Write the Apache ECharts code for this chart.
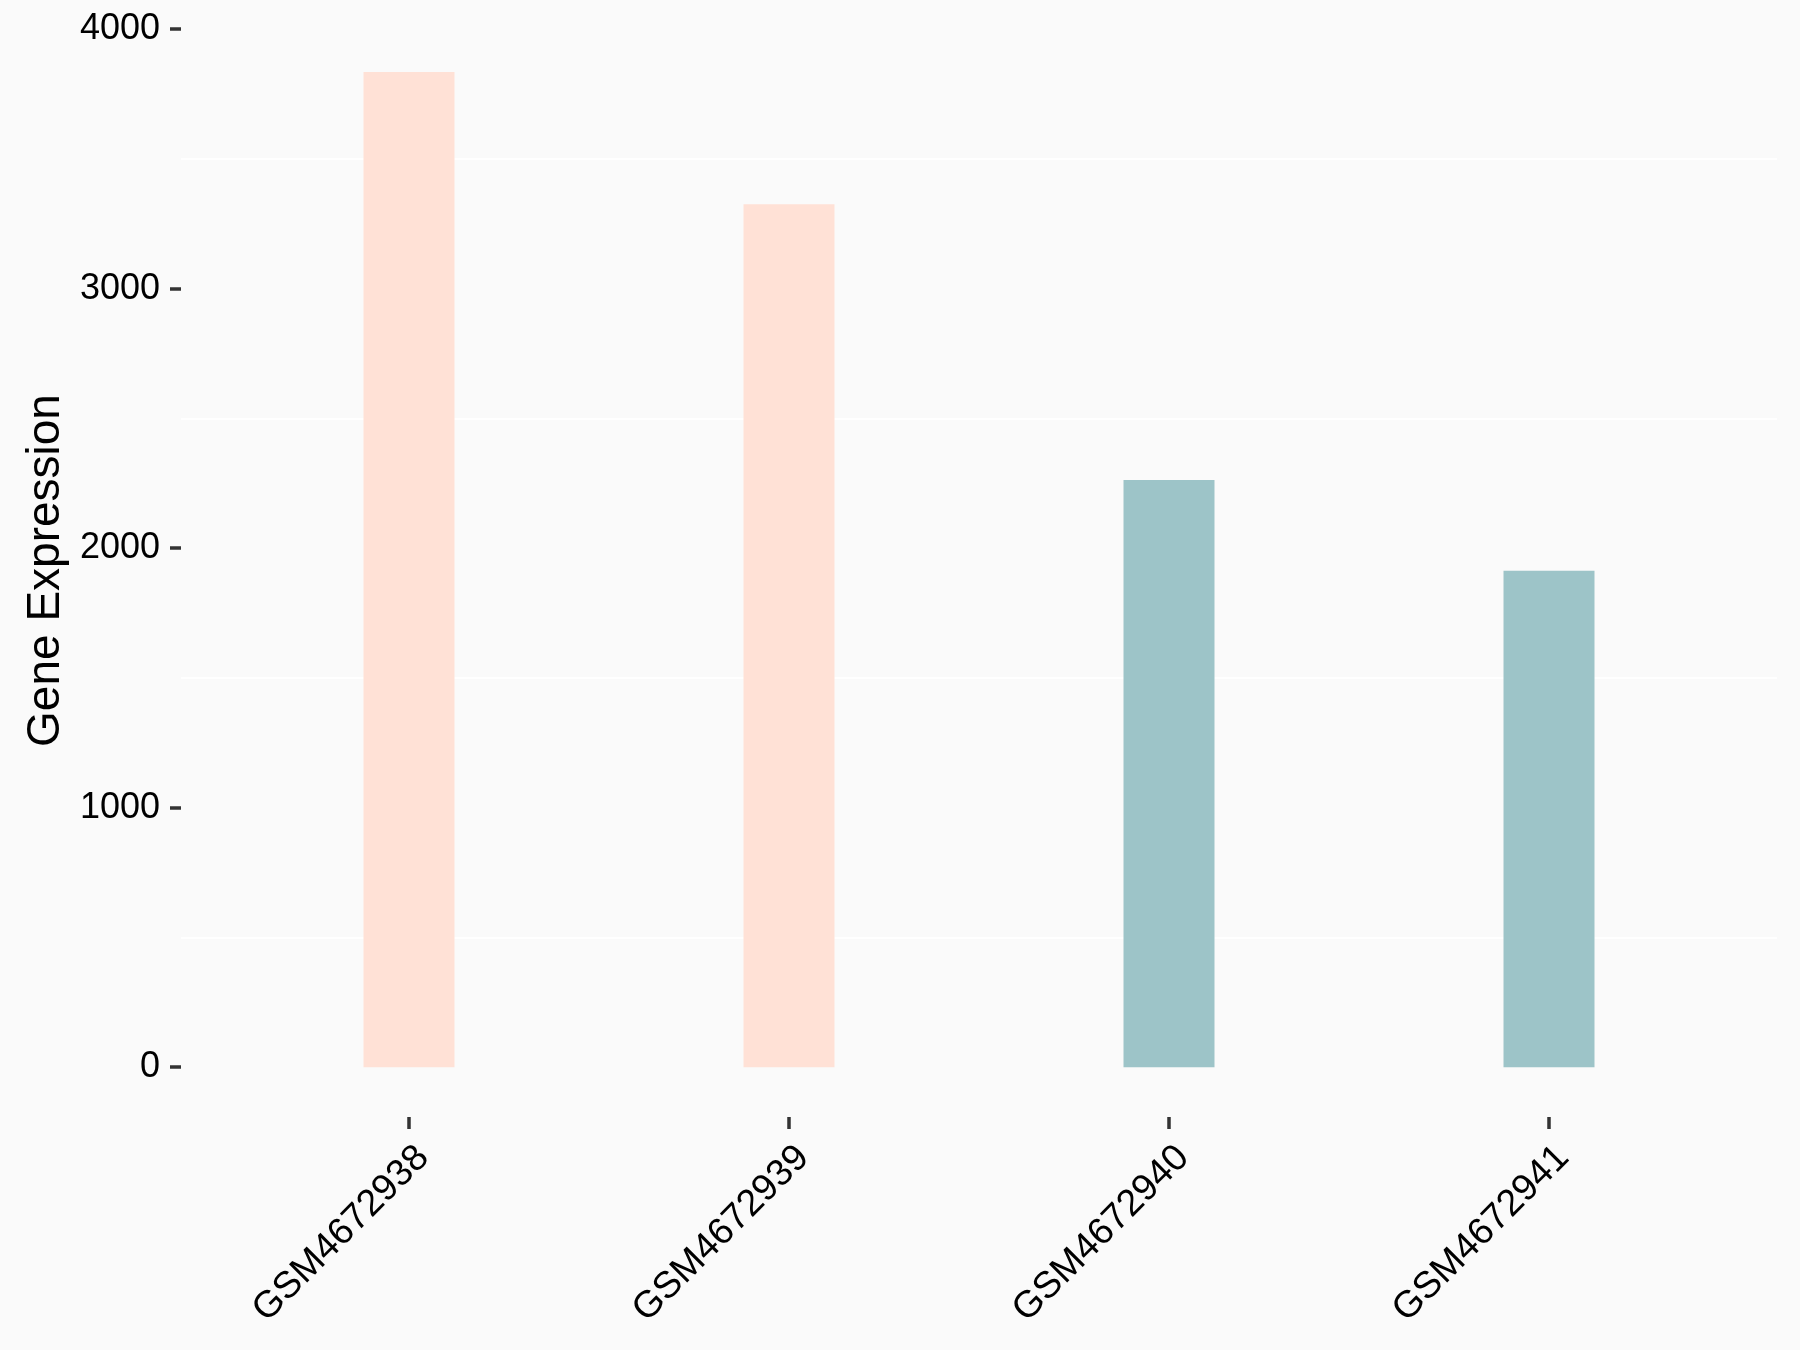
<!DOCTYPE html>
<html>
<head>
<meta charset="utf-8">
<script src="https://cdn.jsdelivr.net/npm/echarts@6/dist/echarts.min.js"></script>
<style>
  html, body { margin: 0; padding: 0; background: #fafafa; }
  #geneChart { width: 1800px; height: 1350px; }
</style>
</head>
<body>
<div id="geneChart"></div>
<script>
// samples and values
var samples = ['GSM4672938', 'GSM4672939', 'GSM4672940', 'GSM4672941']
var expression = [3835, 3325, 2263, 1913]
var groups = ['A', 'A', 'B', 'B']
var yTicks = [0, 1000, 2000, 3000, 4000]
var yGrid = [500, 1500, 2500, 3500]

var groupColors = { A: '#ffe1d6', B: '#9dc4c8' }
var font = 'Liberation Sans, Arial, sans-serif'

// charts instantiate
var chart = echarts.init(document.getElementById('geneChart'))

var barData = expression.map(function (v, i) {
  return { value: [i + 1, v], itemStyle: { color: groupColors[groups[i]] } }
})
var xPos = samples.map(function (s, i) { return i + 1 })

var option = {
  backgroundColor: '#fafafa',
  animation: false,
  grid: { left: 181, right: 23, top: 24, bottom: 233 },
  xAxis: {
    type: 'value',
    min: 0.4,
    max: 4.6,
    axisLine: { show: false, onZero: false },
    splitLine: { show: false },
    axisTick: {
      show: true,
      customValues: xPos,
      length: 12,
      lineStyle: { color: '#333333', width: 3.5 }
    },
    axisLabel: {
      // labels hang slightly right of their tick, like the original
      customValues: xPos.map(function (p) { return p + 0.037 }),
      formatter: function (v) { return samples[Math.round(v) - 1] },
      rotate: 45,
      margin: 35,
      fontSize: 37.5,
      color: '#000000',
      fontFamily: font
    }
  },
  yAxis: [
    {
      type: 'value',
      min: -192,
      max: 4020,
      name: 'Gene Expression',
      nameLocation: 'middle',
      nameGap: 110,
      nameTextStyle: { fontSize: 46, color: '#000000', fontFamily: font },
      axisLine: { show: false },
      splitLine: { show: false },
      axisTick: {
        show: true,
        customValues: yTicks,
        length: 11,
        lineStyle: { color: '#333333', width: 3.5 }
      },
      axisLabel: {
        customValues: yTicks,
        formatter: function (v) { return String(v) },
        margin: 21,
        fontSize: 36,
        color: '#000000',
        fontFamily: font
      }
    },
    {
      // only carries the faint grid lines
      type: 'value',
      position: 'left',
      min: -192,
      max: 4020,
      axisLine: { show: false },
      axisLabel: { show: false },
      axisTick: { show: false, customValues: yGrid },
      splitLine: { show: true, lineStyle: { color: '#ffffff', width: 2 } }
    }
  ],
  series: [
    {
      type: 'bar',
      barWidth: 91,
      data: barData
    }
  ]
}

chart.setOption(option, true)
</script>
</body>
</html>
